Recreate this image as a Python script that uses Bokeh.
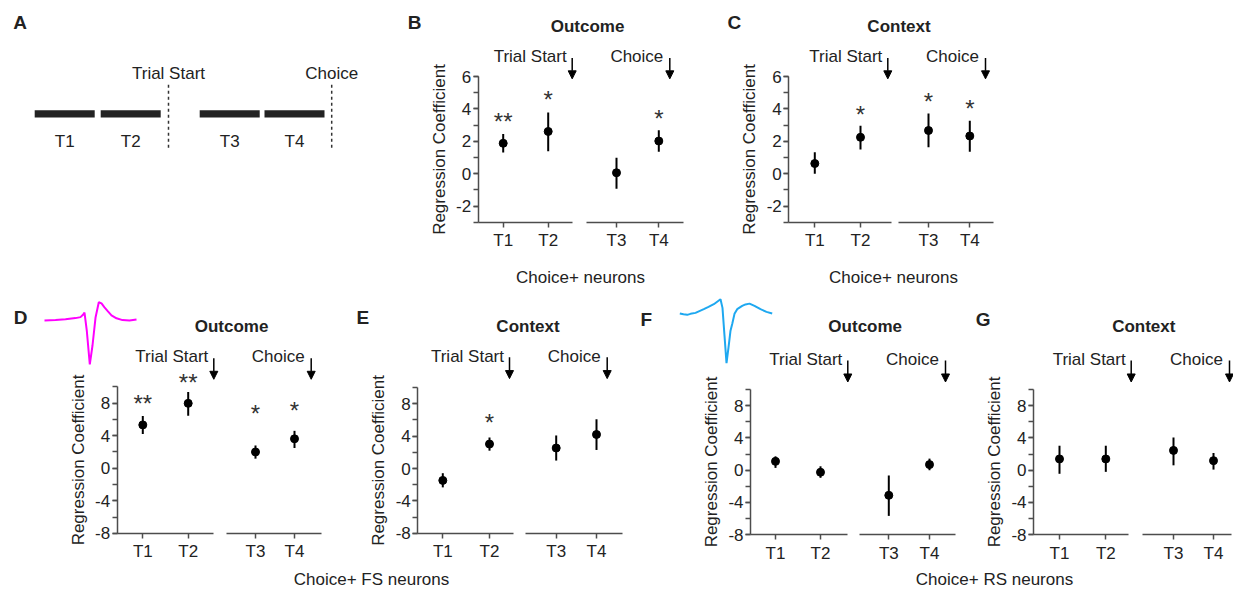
from bokeh.plotting import figure
from bokeh.models import (Range1d, LinearAxis, FixedTicker, SingleIntervalTicker,
                          Arrow, NormalHead, ColumnDataSource, Label)
from bokeh.embed import file_html
from bokeh.resources import INLINE
from bokeh.core.properties import value

# ------------------------------------------------------------------ data
epochs = ["T1", "T2", "T3", "T4"]
# panel A timeline (arbitrary time units, trial start = 0)
epoch_start = [-2.23, -1.13, 0.52, 1.60]
epoch_end = [-1.23, -0.13, 1.52, 2.60]
event_names = ["Trial Start", "Choice"]
event_times = [0.0, 2.72]

# regression coefficient: mean and error-bar limits per epoch
B_mean = [1.88, 2.61, 0.06, 2.02]
B_lo = [1.31, 1.39, -0.92, 1.35]
B_hi = [2.45, 3.78, 0.98, 2.69]
B_sig = ["**", "*", "", "*"]
B_sig_y = [3.47, 4.79, None, 3.62]

C_mean = [0.63, 2.25, 2.67, 2.33]
C_lo = [0.00, 1.49, 1.63, 1.35]
C_hi = [1.33, 2.96, 3.72, 3.27]
C_sig = ["", "*", "*", "*"]
C_sig_y = [None, 3.86, 4.67, 4.27]

D_mean = [5.33, 7.98, 2.00, 3.62]
D_lo = [4.20, 6.46, 1.18, 2.49]
D_hi = [6.43, 9.39, 2.80, 4.60]
D_sig = ["**", "**", "*", "*"]
D_sig_y = [8.41, 11.02, 7.20, 7.50]

E_mean = [-1.47, 3.02, 2.53, 4.20]
E_lo = [-2.33, 2.20, 0.98, 2.29]
E_hi = [-0.58, 3.83, 4.08, 6.08]
E_sig = ["", "*", "", ""]
E_sig_y = [None, 6.16, None, None]

F_mean = [1.09, -0.26, -3.12, 0.69]
F_lo = [0.28, -0.95, -5.67, -0.01]
F_hi = [1.71, 0.48, -0.66, 1.43]
F_sig = ["", "", "", ""]
F_sig_y = [None, None, None, None]

G_mean = [1.39, 1.39, 2.45, 1.18]
G_lo = [-0.45, -0.21, 0.60, 0.07]
G_hi = [3.03, 3.03, 4.05, 2.13]
G_sig = ["", "", "", ""]
G_sig_y = [None, None, None, None]

# mean spike waveforms (time in ms, amplitude normalised to trough = -1)
fs_t = [0, .367, .7, 1.033, 1.2, 1.283, 1.333, 1.41, 1.51, 1.6, 1.7, 1.81,
        1.9, 2.0, 2.1, 2.233, 2.4, 2.6, 2.833, 3.067]
fs_v = [-.022, -.011, .004, .031, .053, .104, .152, -.25, -1.0, -.579, .038,
        .384, .358, .269, .192, .093, .026, -.013, -.022, 0.0]
rs_t = [0, .123, .247, .357, .523, .8, .957, 1.133, 1.257, 1.357, 1.423,
        1.49, 1.557, 1.623, 1.69, 1.747, 1.823, 1.913, 2.08, 2.19, 2.323,
        2.49, 2.69, 2.89, 3.08]
rs_v = [0, -.016, -.026, -.006, .014, .088, .134, .188, .244, .288, .114,
        -.446, -1.0, -.686, -.346, -.212, -.006, .088, .154, .184, .2, .154,
        .088, .034, 0]

# ------------------------------------------------------------------ layout
W, H = 1233, 591
FL, FR, FT, FB = 0.0, float(W), 2.0, 598.0   # frame edges in reference px

FONT = "Liberation Sans"
TXT = "#222222"
AX = "#4d4d4d"
REG = "17px"


def xrange_from(a, pa, b, pb):
    s = (pb - pa) / (b - a)
    return Range1d(a - (pa - FL) / s, a + (FR - pa) / s)


def yrange_from(a, pa, b, pb):
    s = (pa - pb) / (b - a)
    return Range1d(a - (FB - pa) / s, a + (pa - FT) / s)


p = figure(width=W, height=H, x_range=Range1d(FL, FR), y_range=Range1d(FB, FT),
           x_axis_type=None, y_axis_type=None, toolbar_location=None,
           output_backend="svg", min_border=0, title=None,
           outline_line_color=None, background_fill_color="white",
           border_fill_color="white")


def page_text(x, y, t, size=REG, align="center", bold=False, color=TXT):
    p.text(x=[x], y=[y], text=[t], text_font=value(FONT),
           text_font_size=value(size), text_align=value(align),
           text_baseline=value("alphabetic"), text_color=color,
           text_font_style=value("bold" if bold else "normal"))


def style_axis(ax):
    ax.axis_line_color = AX
    ax.axis_line_width = 1.5
    ax.major_tick_line_color = AX
    ax.major_tick_line_width = 1.5
    ax.minor_tick_line_color = AX
    ax.minor_tick_line_width = 1.5
    ax.major_tick_in = 0
    ax.major_tick_out = 5
    ax.minor_tick_in = 0
    ax.minor_tick_out = 5
    ax.major_label_text_font = FONT
    ax.major_label_text_font_size = REG
    ax.major_label_text_color = TXT


# ---------------- panel A : task timeline
p.extra_x_ranges["A"] = xrange_from(0, 168.0, 1, 228.0)
p.quad(left=epoch_start, right=epoch_end, top=112.7, bottom=120.0,
       x_range_name="A", fill_color="#222222", line_color=None)
p.segment(x0=event_times, x1=event_times, y0=87, y1=153, x_range_name="A",
          line_color="#333333", line_width=1.5, line_dash="3 3")
p.text(x=event_times, y=[76, 76], text=event_names, x_range_name="A",
       text_font=value(FONT), text_font_size=value(REG),
       text_align=value("center"), text_baseline=value("alphabetic"),
       text_color=TXT)
p.text(x=[(s + e) / 2 for s, e in zip(epoch_start, epoch_end)], y=[144] * 4,
       text=epochs, x_range_name="A", text_font=value(FONT),
       text_font_size=value(REG), text_align=value("center"),
       text_baseline=value("alphabetic"), text_color=TXT)
page_text(12.7, 24, "A", size="19px", align="left", bold=True)

# ---------------- regression panels
GS = -12.0  # panel G pulled in so that it fits the canvas
LAY = {
    "B": dict(yax=477.7, T1=502.7, T2=547.7, e1=571.7, s2=585.7, T3=616.0,
              T4=658.3, e2=682.7, a1=571.7, a2=669.3, ybot=225.7, ytop=78.7,
              at=60.0, ah=81.0, sub_y=58.3, tx=587.0, ty=28.3, lx=407.3, ly=24.0),
    "C": dict(yax=788.3, T1=814.3, T2=860.0, e1=890.7, s2=898.3, T3=928.0,
              T4=969.3, e2=993.3, a1=887.3, a2=985.0, ybot=225.7, ytop=78.7,
              at=60.0, ah=81.0, sub_y=58.3, tx=898.5, ty=28.3, lx=727.0, ly=24.0),
    "D": dict(yax=116.7, T1=142.3, T2=187.7, e1=213.3, s2=226.0, T3=255.0,
              T4=294.0, e2=320.7, a1=213.3, a2=310.7, ybot=539.3, ytop=391.7,
              at=362.7, ah=384.0, sub_y=360.7, tx=231.0, ty=330.7, lx=13.3, ly=322.0),
    "E": dict(yax=417.3, T1=442.3, T2=489.0, e1=513.3, s2=525.0, T3=555.7,
              T4=596.0, e2=621.7, a1=509.0, a2=606.7, ybot=539.3, ytop=392.3,
              at=361.7, ah=383.3, sub_y=360.7, tx=527.5, ty=330.7, lx=356.0, ly=322.0),
    "F": dict(yax=750.0, T1=775.0, T2=820.0, e1=846.7, s2=859.0, T3=888.3,
              T4=929.0, e2=955.0, a1=847.3, a2=945.0, ybot=540.7, ytop=394.3,
              at=365.0, ah=386.7, sub_y=364.0, tx=864.7, ty=330.7, lx=640.0, ly=323.3),
    "G": dict(yax=1045.0 + GS, T1=1071.0 + GS, T2=1117.3 + GS, e1=1140.0 + GS,
              s2=1154.0 + GS, T3=1185.0 + GS, T4=1225.0 + GS, e2=1231.0,
              a1=1142.7 + GS, a2=1241.0 + GS, ybot=540.7, ytop=394.3,
              at=365.0, ah=386.7, sub_y=364.0, tx=1155.3 + GS, ty=330.7,
              lx=987.3 + GS, ly=323.3),
}

PANELS = [
    ("B", "Outcome", B_mean, B_lo, B_hi, B_sig, B_sig_y, (-3, 6), 2),
    ("C", "Context", C_mean, C_lo, C_hi, C_sig, C_sig_y, (-3, 6), 2),
    ("D", "Outcome", D_mean, D_lo, D_hi, D_sig, D_sig_y, (-8, 10), 4),
    ("E", "Context", E_mean, E_lo, E_hi, E_sig, E_sig_y, (-8, 10), 4),
    ("F", "Outcome", F_mean, F_lo, F_hi, F_sig, F_sig_y, (-8, 10), 4),
    ("G", "Context", G_mean, G_lo, G_hi, G_sig, G_sig_y, (-8, 10), 4),
]

for key, title, mean, lo, hi, sig, sig_y, (y0, y1), yint in PANELS:
    lay = LAY[key]
    L, R, Y = key + "L", key + "R", key + "Y"
    p.extra_x_ranges[L] = xrange_from(1, lay["T1"], 2, lay["T2"])
    p.extra_x_ranges[R] = xrange_from(3, lay["T3"], 4, lay["T4"])
    p.extra_y_ranges[Y] = yrange_from(y0, lay["ybot"], y1, lay["ytop"])

    def xl(px, lay=lay):
        return 1 + (px - lay["T1"]) / (lay["T2"] - lay["T1"])

    def xr(px, lay=lay):
        return 3 + (px - lay["T3"]) / (lay["T4"] - lay["T3"])

    yax = LinearAxis(x_range_name=L, y_range_name=Y, fixed_location=xl(lay["yax"]),
                     bounds=(y0, y1),
                     ticker=SingleIntervalTicker(interval=yint, num_minor_ticks=2),
                     major_label_overrides={t: str(t) for t in range(y0, y1 + 1) if t < 0},
                     axis_label="Regression Coefficient", axis_label_standoff=4,
                     major_label_standoff=2)
    style_axis(yax)
    yax.axis_label_text_font = FONT
    yax.axis_label_text_font_size = REG
    yax.axis_label_text_font_style = "normal"
    yax.axis_label_text_color = TXT
    p.add_layout(yax, "left")

    for rname, ticks, b0, b1 in ((L, [1, 2], xl(lay["yax"]), xl(lay["e1"])),
                                 (R, [3, 4], xr(lay["s2"]), xr(lay["e2"]))):
        xa = LinearAxis(x_range_name=rname, y_range_name=Y, fixed_location=y0,
                        bounds=(b0, b1),
                        ticker=FixedTicker(ticks=ticks, minor_ticks=[]),
                        major_label_overrides={t: epochs[t - 1] for t in ticks},
                        major_label_standoff=4)
        style_axis(xa)
        p.add_layout(xa, "below")

    for rname, idx in ((L, [0, 1]), (R, [2, 3])):
        src = ColumnDataSource(dict(x=[i + 1 for i in idx],
                                    m=[mean[i] for i in idx],
                                    lo=[lo[i] for i in idx],
                                    hi=[hi[i] for i in idx]))
        p.segment(x0="x", y0="lo", x1="x", y1="hi", source=src,
                  x_range_name=rname, y_range_name=Y,
                  line_color="black", line_width=2)
        p.scatter("x", "m", source=src, x_range_name=rname, y_range_name=Y,
                  size=8, fill_color="black", line_color="black")
        sidx = [i for i in idx if sig[i]]
        if sidx:
            p.text(x=[i + 1 for i in sidx], y=[sig_y[i] for i in sidx],
                   text=[sig[i] for i in sidx], x_range_name=rname,
                   y_range_name=Y, text_font=value(FONT),
                   text_font_size=value("24px"), text_align=value("center"),
                   text_baseline=value("alphabetic"), y_offset=3.5,
                   text_color="#333333")

    # event arrows
    for rname, xv in ((L, xl(lay["a1"])), (R, xr(lay["a2"]))):
        p.add_layout(Arrow(x_start=xv, x_end=xv, y_start=lay["at"], y_end=lay["ah"],
                           x_range_name=rname, y_range_name="default",
                           line_color="black", line_width=1.5,
                           end=NormalHead(size=8, fill_color="black",
                                          line_color="black", line_width=1)))
    page_text(lay["a1"] - 5.5, lay["sub_y"], "Trial Start", align="right")
    page_text(lay["a2"] - 6.5, lay["sub_y"], "Choice", align="right")
    page_text(lay["tx"], lay["ty"], title, size="17px", bold=True)
    page_text(lay["lx"], lay["ly"], key, size="19px", align="left", bold=True)

# group labels
page_text(580.0, 281.7, "Choice+ neurons")
page_text(893.0, 281.7, "Choice+ neurons")
for gx, gt in ((371.0, "Choice+ FS neurons"), (994.0, "Choice+ RS neurons")):
    p.add_layout(Label(x=gx, y=586.0, text=gt, text_font=FONT,
                       text_font_size=REG, text_align="center",
                       text_baseline="alphabetic", text_color=TXT))

# ---------------- spike waveforms
p.extra_x_ranges["wfsX"] = xrange_from(0, 44.0, 1, 74.0)
p.extra_y_ranges["wfsY"] = yrange_from(-1, 369.0, 0, 323.7)
p.line(fs_t, fs_v, x_range_name="wfsX", y_range_name="wfsY",
       line_color="#ff00ff", line_width=2)
p.extra_x_ranges["wrsX"] = xrange_from(0, 679.3, 1, 709.3)
p.extra_y_ranges["wrsY"] = yrange_from(-1, 367.7, 0, 317.7)
p.line(rs_t, rs_v, x_range_name="wrsX", y_range_name="wrsY",
       line_color="#1ea8f0", line_width=2)

open("out.html", "w").write(file_html(p, INLINE))
